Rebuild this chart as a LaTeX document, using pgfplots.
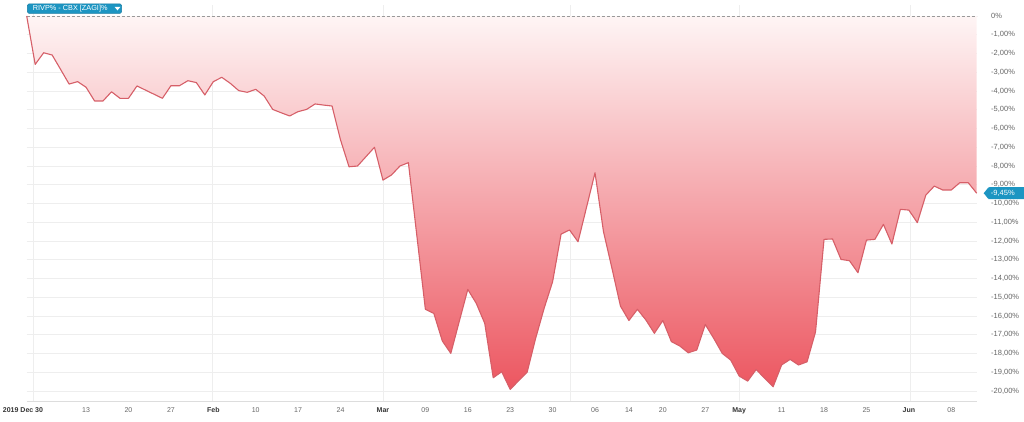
\documentclass[border=0pt]{standalone}
\usepackage{fontspec}
\setmainfont{Liberation Sans}
\usepackage{pgfplots}
\usepackage{pgfplotstable}
\pgfplotsset{compat=1.18}
\definecolor{filltop}{HTML}{FEF5F5}
\definecolor{fillbot}{HTML}{EC5660}
\definecolor{linecol}{HTML}{D65F68}
\definecolor{gridcol}{HTML}{EEEEEE}
\definecolor{axcol}{HTML}{DDDDDD}
\definecolor{tickcol}{HTML}{666666}
\definecolor{monthcol}{HTML}{333333}
\definecolor{tagblue}{HTML}{1C95C2}
\definecolor{tagborder}{HTML}{167CA3}
\newcommand{\mb}[1]{\textcolor{monthcol}{\textbf{#1}}}
\pgfplotstableread{
i v
0 0
1 -2.58
2 -1.96
3 -2.08
4 -2.85
5 -3.63
6 -3.50
7 -3.80
8 -4.53
9 -4.53
10 -4.04
11 -4.39
12 -4.39
13 -3.73
14 -3.95
15 -4.17
16 -4.39
17 -3.72
18 -3.72
19 -3.45
20 -3.55
21 -4.21
22 -3.50
23 -3.27
24 -3.59
25 -3.98
26 -4.07
27 -3.91
28 -4.27
29 -4.98
30 -5.16
31 -5.33
32 -5.10
33 -4.98
34 -4.69
35 -4.75
36 -4.80
37 -6.61
38 -8.04
39 -8.00
40 -7.50
41 -7.00
42 -8.75
43 -8.48
44 -8.00
45 -7.82
46 -11.73
47 -15.64
48 -15.86
49 -17.33
50 -17.99
51 -16.28
52 -14.58
53 -15.32
54 -16.39
55 -19.29
56 -18.97
57 -19.91
58 -19.45
59 -19.00
60 -17.19
61 -15.59
62 -14.17
63 -11.63
64 -11.41
65 -12.04
66 -10.20
67 -8.36
68 -11.50
69 -13.46
70 -15.47
71 -16.24
72 -15.64
73 -16.21
74 -16.92
75 -16.24
76 -17.36
77 -17.60
78 -17.96
79 -17.81
80 -16.45
81 -17.19
82 -17.99
83 -18.35
84 -19.20
85 -19.47
86 -18.85
87 -19.32
88 -19.77
89 -18.61
90 -18.31
91 -18.61
92 -18.44
93 -16.84
94 -11.91
95 -11.89
96 -12.98
97 -13.05
98 -13.69
99 -11.95
100 -11.91
101 -11.11
102 -12.16
103 -10.31
104 -10.35
105 -11.02
106 -9.55
107 -9.07
108 -9.28
109 -9.28
110 -8.89
111 -8.89
112 -9.45
}\data
\begin{document}
\begin{tikzpicture}
\useasboundingbox (0,0) rectangle (1024pt,422pt);
\begin{axis}[
  at={(26.7pt,21pt)}, anchor=south west,
  scale only axis, width=950pt, height=396pt,
  xmin=0, xmax=112, ymin=-20.53, ymax=0.587,
  axis line style={draw=none},
  major tick length=0pt,
  clip=false,
  xtick={0,7,12,17,22,27,32,37,42,47,52,57,62,67,71,75,80,84,89,94,99,104,109},
  xticklabels={{\makebox[0pt]{\mb{2019 Dec 30}}\kern7.4pt},13,20,27,{\mb{Feb}},10,17,24,{\mb{Mar}},09,16,23,30,06,14,20,27,{\mb{May}},11,18,25,{\mb{Jun}},08},
  xticklabel style={font=\fontsize{7}{8}\selectfont, text=tickcol, anchor=base, inner sep=0pt, yshift=-11.5pt},
  ytick={0,-1,...,-20},
  yticklabels={{0\%},{-1,00\%},{-2,00\%},{-3,00\%},{-4,00\%},{-5,00\%},{-6,00\%},{-7,00\%},{-8,00\%},{-9,00\%},{-10,00\%},{-11,00\%},{-12,00\%},{-13,00\%},{-14,00\%},{-15,00\%},{-16,00\%},{-17,00\%},{-18,00\%},{-19,00\%},{-20,00\%}},
  yticklabel pos=right,
  yticklabel style={font=\fontsize{7.5}{9}\selectfont, text=tickcol, anchor=west, inner sep=0pt, xshift=14.3pt},
  major grid style={draw=gridcol, line width=0.8pt},
  extra y ticks={-1,-2,...,-20}, extra y tick labels={},
  extra y tick style={grid=major},
  extra x ticks={0.8,21.9,42,64.1,84,104.2}, extra x tick labels={},
  extra x tick style={grid=major},
]
\draw[axcol, line width=0.8pt] (rel axis cs:0,0) -- (rel axis cs:1,0);
\addplot[draw=none, top color=filltop, bottom color=fillbot] table[x=i,y=v]{\data} \closedcycle;
\draw[gray!80, line width=0.6pt, dash pattern=on 3pt off 2pt] (axis cs:0,0) -- (axis cs:112,0);
\addplot[linecol, line width=1.1pt, line join=round, mark=none] table[x=i,y=v]{\data};
\node[fill=tagblue, text=white, rounded corners=1.5pt, anchor=west, inner xsep=3pt, inner ysep=0pt,
  minimum height=12pt, text width=34pt, align=left, font=\fontsize{7.5}{9}\selectfont, xshift=11pt] (tag) at (axis cs:112,-9.45) {-9,45\%};
\fill[tagblue] ([xshift=-4pt]tag.west) -- ([xshift=1pt]tag.north west) -- ([xshift=1pt]tag.south west) -- cycle;
\end{axis}
\fill[tagblue, draw=tagborder, line width=0.5pt, rounded corners=1.5pt] (27.3pt,408.7pt) rectangle (121.7pt,418pt);
\node[anchor=west, inner sep=0pt, text=white, font=\fontsize{7.3}{8}\selectfont] at (32.7pt,413.3pt) {RIVP\% - CBX [ZAGI]\%};
\fill[white] (114.5pt,415.2pt) -- (120.5pt,415.2pt) -- (117.5pt,411.6pt) -- cycle;
\end{tikzpicture}
\end{document}
